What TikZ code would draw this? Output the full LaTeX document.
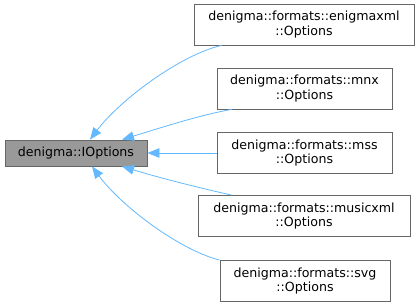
\documentclass[tikz,border=0pt]{standalone}
\usepackage{fontspec}
\setmainfont{DejaVu Sans}
\usetikzlibrary{arrows.meta,positioning}
\definecolor{edgeblue}{HTML}{63B8FF}
\definecolor{boxline}{HTML}{666666}
\definecolor{basefill}{HTML}{999999}
\tikzset{cls/.style={draw=boxline,line width=0.8pt,fill=white,align=center,inner sep=0pt,
    minimum height=41pt,font=\fontsize{12.6}{14.5}\selectfont},
  basecls/.style={cls,fill=basefill,minimum height=26pt},
  inh/.style={{Triangle[length=12pt,width=9.5pt]}-,edgeblue,line width=0.8pt}}

\begin{document}
\begin{tikzpicture}[x=1pt,y=-1pt]
\useasboundingbox (0,0) rectangle (420,307);
\node[basecls,minimum width=142pt] (iopts) at (76,153){denigma::IOptions};
\node[cls,minimum width=220pt] (enigmaxml) at (304,24.5){denigma::formats::enigmaxml\\::Options};
\node[cls,minimum width=175pt] (mnx) at (304.5,88.5){denigma::formats::mnx\\::Options};
\node[cls,minimum width=175pt] (mss) at (304.5,153){denigma::formats::mss\\::Options};
\node[cls,minimum width=212pt] (musicxml) at (304,216){denigma::formats::musicxml\\::Options};
\node[cls,minimum width=170pt] (svg) at (305,281){denigma::formats::svg\\::Options};
% inheritance edges
\draw[inh] ([xshift=14pt]iopts.north) .. controls (120,100) and (180,55) .. ([xshift=28pt]enigmaxml.south west);
\draw[inh] ([xshift=46pt]iopts.north) .. controls (160,128) and (200,115) .. ([xshift=15pt]mnx.south west);
\draw[inh] (iopts.east) -- (mss.west);
\draw[inh] ([xshift=46pt]iopts.south) .. controls (160,178) and (200,188) .. ([xshift=34pt]musicxml.north west);
\draw[inh] ([xshift=16pt]iopts.south) .. controls (122,207) and (180,250) .. (svg.north west);
\end{tikzpicture}
\end{document}
